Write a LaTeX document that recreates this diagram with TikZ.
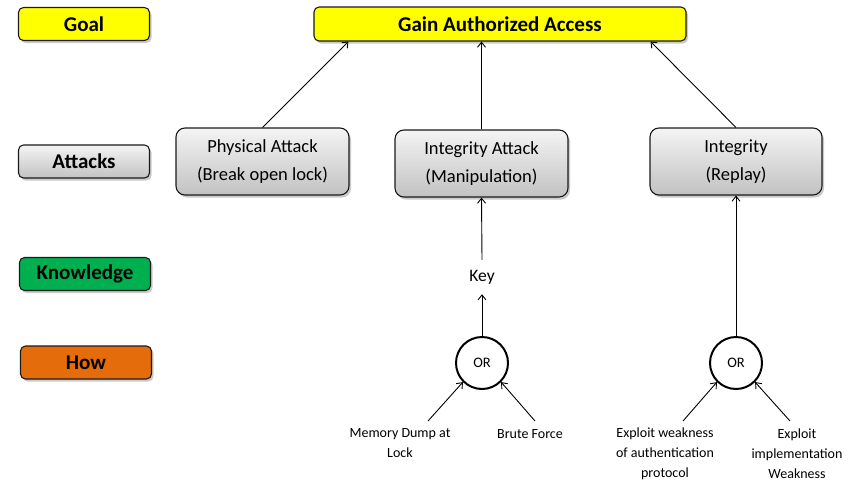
\documentclass[tikz,border=0pt]{standalone}
\usepackage{fontspec}
\setmainfont{Carlito}
\usetikzlibrary{arrows.meta,shadows,calc}

\definecolor{goalyellow}{HTML}{FFFF00}
\definecolor{knowgreen}{HTML}{00B050}
\definecolor{howorange}{HTML}{E46C0A}
\definecolor{greytop}{HTML}{F4F4F4}
\definecolor{greybot}{HTML}{C2C2C2}
\definecolor{edge}{HTML}{1A1A1A}

\tikzset{
  x=1pt, y=-1pt,
  boxshadow/.style={drop shadow={shadow xshift=2pt, shadow yshift=-2.5pt, opacity=0.35, fill=black!60}},
  levelbox/.style={draw=edge, line width=1.1pt, rounded corners=5pt, inner sep=0pt,
    minimum width=131pt, minimum height=33pt, font=\fontsize{21}{24}\selectfont\bfseries, boxshadow},
  attackbox/.style={draw=edge, line width=1.1pt, rounded corners=9pt, inner sep=0pt,
    minimum width=173pt, minimum height=67pt, align=center,
    top color=greytop, bottom color=greybot,
    font=\fontsize{18.5}{28}\selectfont, boxshadow},
  greyfill/.style={top color=greytop, bottom color=greybot},
  orgate/.style={circle, draw=black, line width=2pt, minimum size=52pt, inner sep=0pt,
    font=\fontsize{14.5}{17}\selectfont},
  howtext/.style={align=center, inner sep=0pt, font=\fontsize{14}{20}\selectfont},
  link/.style={line width=0.9pt, -{Straight Barb[length=5pt,width=8pt,line width=0.9pt]}}
}

\begin{document}
\begin{tikzpicture}
\useasboundingbox (0,0) rectangle (856,482);

% level labels on the left
\node[levelbox, fill=goalyellow] (goal) at (84,24) {Goal};
\node[levelbox, greyfill] (attacks) at (84,161.5) {Attacks};
\node[levelbox, fill=knowgreen] (knowledge) at (85,274) {Knowledge};
\node[levelbox, fill=howorange] (how) at (86,362.5) {How};

% goal
\node[levelbox, fill=goalyellow, minimum width=372pt, minimum height=34pt] (gain) at (500,24) {Gain Authorized Access};

% attacks
\node[attackbox] (phys) at (262.5,161.5) {Physical Attack\\(Break open lock)};
\node[attackbox] (integ) at (481.5,163.5) {Integrity Attack\\(Manipulation)};
\node[attackbox, minimum width=172pt] (replay) at (736,161.5) {Integrity\\(Replay)};

% knowledge
\node[inner sep=0pt, minimum height=34pt, font=\fontsize{17.5}{20}\selectfont] (key) at (482,277) {Key};

% OR gates
\node[orgate] (or1) at (482,363) {OR};
\node[orgate] (or2) at (736,363) {OR};

% leaf methods
\node[howtext] (mem) at (400,443.5) {Memory Dump at\\Lock};
\node[howtext] (brute) at (530,434) {Brute Force};
\node[howtext] (expa) at (665,454) {Exploit weakness\\of authentication\\protocol};
\node[howtext] (expb) at (797,454) {Exploit\\implementation\\Weakness};

\coordinate (memtip) at (428,421);
\coordinate (brutetip) at (535,421);
\coordinate (expatip) at (683,421);
\coordinate (expbtip) at (790,421);

% connectors
\draw[link] (phys.north) -- ([xshift=35pt]gain.south west);
\draw[link] (integ.north) -- (integ.north |- gain.south);
\draw[link] (replay.north) -- ([xshift=-36pt]gain.south east);
\draw[link] (key.north) -- (integ.south);
\draw[link] (or1.north) -- (key.south);
\draw[link] (or2.north) -- (replay.south);
\draw[link] (memtip) -- (or1.south west);
\draw[link] (brutetip) -- (or1.south east);
\draw[link] (expatip) -- (or2.south west);
\draw[link] (expbtip) -- (or2.south east);
\end{tikzpicture}
\end{document}
